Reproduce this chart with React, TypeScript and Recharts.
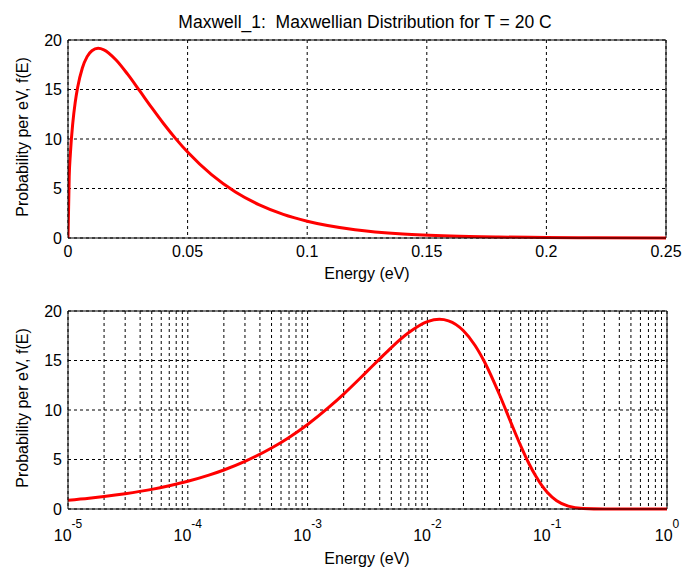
import { LineChart, Line, XAxis, YAxis, CartesianGrid, ReferenceLine } from 'recharts'

const FONT = '"Liberation Sans", Arial, Helvetica, sans-serif'

// top panel: linear energy axis
const topEnergy = [0, 0.0005, 0.001, 0.002, 0.003, 0.004, 0.006, 0.008, 0.010, 0.0126, 0.015, 0.020, 0.025, 0.030, 0.035, 0.040, 0.045, 0.050, 0.060, 0.070, 0.080, 0.090, 0.100, 0.120, 0.140, 0.160, 0.180, 0.200, 0.220, 0.250]
const topProb = [0, 6.16, 8.54, 11.61, 13.67, 15.17, 17.17, 18.32, 18.92, 19.16, 19.01, 18.01, 16.52, 14.85, 13.16, 11.54, 10.04, 8.68, 6.40, 4.65, 3.35, 2.39, 1.70, 0.84, 0.41, 0.20, 0.10, 0.05, 0.02, 0.01]
const topXTicks = [0, 0.05, 0.1, 0.15, 0.2, 0.25]

// bottom panel: log energy axis
const logEnergy = [1e-5, 1.5e-5, 2e-5, 3e-5, 5e-5, 7e-5, 1e-4, 1.5e-4, 2e-4, 3e-4, 5e-4, 7e-4, 1e-3, 1.5e-3, 2e-3, 3e-3, 4e-3, 5e-3, 7e-3, 1e-2, 1.26e-2, 1.5e-2, 2e-2, 2.5e-2, 3e-2, 4e-2, 5e-2, 6e-2, 7e-2, 8e-2, 9e-2, 0.1, 0.12, 0.15, 0.2, 0.3, 0.5, 1]
const logProb = [0.89, 1.09, 1.26, 1.54, 1.98, 2.35, 2.80, 3.42, 3.94, 4.81, 6.16, 7.23, 8.54, 10.26, 11.61, 13.67, 15.17, 16.31, 17.82, 18.92, 19.16, 19.01, 18.01, 16.52, 14.85, 11.54, 8.68, 6.40, 4.65, 3.35, 2.39, 1.70, 0.84, 0.29, 0.05, 0, 0, 0]
const decades = [1e-5, 1e-4, 1e-3, 1e-2, 1e-1, 1]
const decadeExp = ['-5', '-4', '-3', '-2', '-1', '0']
const minorMult = [2, 3, 4, 5, 6, 7, 8, 9]

const yTicks = [0, 5, 10, 15, 20]

const topData = topEnergy.map((e, i) => ({ e, p: topProb[i] }))
const logData = logEnergy.map((e, i) => ({ e, p: logProb[i] }))
const logTicks = decades
       .flatMap((d, i) => (i < decades.length - 1 ? [d, ...minorMult.map(m => m * d)] : [d]))

const tickStyle = { fontSize: 16, fill: '#000', fontFamily: FONT }

function LogTick(props: any) {
       const { x, y, payload } = props
       const idx = decades.indexOf(payload.value)
       if (idx < 0) return <g />
       return (
              <text x={x} y={y + 24} textAnchor="middle" fontSize={16} fontFamily={FONT} fill="#000">
                     <tspan>10</tspan>
                     <tspan dy={-13} fontSize={12}>{decadeExp[idx]}</tspan>
              </text>
       )
}

export default function App() {
       return (
              <div style={{ position: 'absolute', left: 0, top: 0, width: 683, height: 568, background: '#fff', fontFamily: FONT }}>
                     <div style={{ position: 'absolute', left: 0, top: 0 }}>
                            <LineChart width={683} height={290} data={topData} margin={{ top: 40, right: 17, bottom: 22, left: 28 }}>
                                   <CartesianGrid stroke="#000" strokeDasharray="3 3" />
                                   <XAxis dataKey="e" type="number" domain={[0, 0.25]} ticks={topXTicks} height={30}
                                          tick={tickStyle} tickLine={false} axisLine={{ stroke: '#000' }} allowDataOverflow />
                                   <YAxis type="number" domain={[0, 20]} ticks={yTicks} width={40} tickMargin={0}
                                          tick={tickStyle} tickLine={false} axisLine={{ stroke: '#000' }} />
                                   <ReferenceLine y={20} stroke="#000" />
                                   <ReferenceLine x={0.25} stroke="#000" />
                                   <Line type="monotone" dataKey="p" stroke="#ff0000" strokeWidth={3} dot={false} isAnimationActive={false} />
                            </LineChart>
                     </div>
                     <div style={{ position: 'absolute', left: 0, top: 290 }}>
                            <LineChart width={683} height={278} data={logData} margin={{ top: 21, right: 16, bottom: 19, left: 28 }}>
                                   <CartesianGrid stroke="#000" strokeDasharray="3 3" />
                                   <XAxis dataKey="e" type="number" scale="log" domain={[1e-5, 1]} ticks={logTicks} height={40}
                                          tick={<LogTick />} tickLine={false} axisLine={{ stroke: '#000' }} allowDataOverflow interval={0} />
                                   <YAxis type="number" domain={[0, 20]} ticks={yTicks} width={40} tickMargin={0}
                                          tick={tickStyle} tickLine={false} axisLine={{ stroke: '#000' }} />
                                   <ReferenceLine y={20} stroke="#000" />
                                   <ReferenceLine x={1} stroke="#000" />
                                   <Line type="monotone" dataKey="p" stroke="#ff0000" strokeWidth={3} dot={false} isAnimationActive={false} />
                            </LineChart>
                     </div>
                     <svg width={683} height={568} style={{ position: 'absolute', left: 0, top: 0, pointerEvents: 'none' }}>
                            <g fontFamily={FONT} fontSize={16} fill="#000">
                                   <text x={365} y={28} fontSize={17.5} textAnchor="middle" style={{ whiteSpace: 'pre' }}>{'Maxwell_1:  Maxwellian Distribution for T = 20 C'}</text>
                                   <text transform="translate(28,137) rotate(-90)" textAnchor="middle">Probability per eV, f(E)</text>
                                   <text x={367} y={279} textAnchor="middle">Energy (eV)</text>
                                   <text transform="translate(28,408) rotate(-90)" textAnchor="middle">Probability per eV, f(E)</text>
                                   <text x={367} y={564} textAnchor="middle">Energy (eV)</text>
                            </g>
                     </svg>
              </div>
       )
}
